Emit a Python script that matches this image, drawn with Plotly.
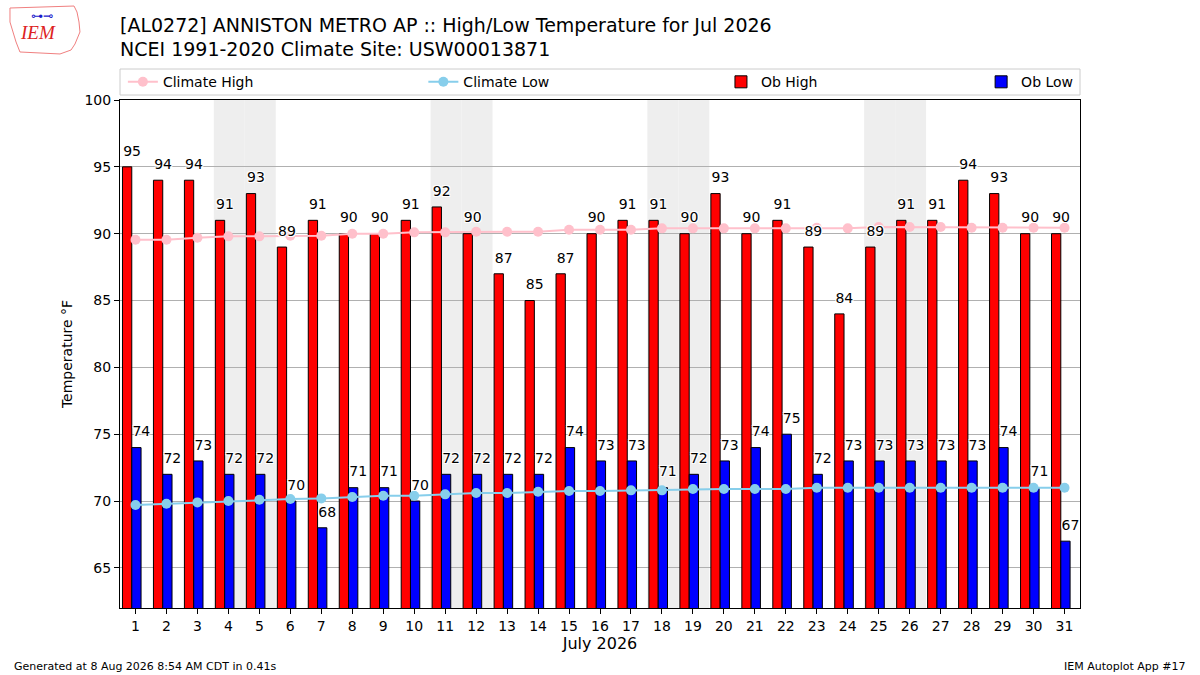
import datetime
import plotly.graph_objects as go

# July 2026 daily obs for AL0272 plus the NCEI 1991-2020 daily normals
days = list(range(1, 32))
ob_high = [95, 94, 94, 91, 93, 89, 91, 90, 90, 91, 92, 90, 87, 85, 87, 90,
           91, 91, 90, 93, 90, 91, 89, 84, 89, 91, 91, 94, 93, 90, 90]
ob_low = [74, 72, 73, 72, 72, 70, 68, 71, 71, 70, 72, 72, 72, 72, 74, 73,
          73, 71, 72, 73, 74, 75, 72, 73, 73, 73, 73, 73, 74, 71, 67]
climate_high = [89.55, 89.55, 89.7, 89.8, 89.8, 89.85, 89.85, 90.0, 90.0, 90.1,
                90.1, 90.15, 90.15, 90.15, 90.3, 90.3, 90.3, 90.4, 90.4, 90.4,
                90.4, 90.4, 90.45, 90.4, 90.5, 90.5, 90.5, 90.45, 90.45, 90.45, 90.45]
climate_low = [69.7, 69.8, 69.9, 70.0, 70.1, 70.15, 70.2, 70.3, 70.4, 70.4,
               70.5, 70.6, 70.6, 70.7, 70.75, 70.75, 70.8, 70.8, 70.9, 70.9,
               70.9, 70.9, 71.0, 71.0, 71.0, 71.0, 71.0, 71.0, 71.0, 71.0, 71.0]
y_ticks = [65, 70, 75, 80, 85, 90, 95, 100]

title_lines = ["[AL0272] ANNISTON METRO AP :: High/Low Temperature for Jul 2026",
               "NCEI 1991-2020 Climate Site: USW00013871"]
footer_left = "Generated at 8 Aug 2026 8:54 AM CDT in 0.41s"
footer_right = "IEM Autoplot App #17"

FONT = "DejaVu Sans"
halo = "1px 1px 0 white, -1px -1px 0 white, 1px -1px 0 white, -1px 1px 0 white"

fig = go.Figure()

# weekend shading
for d in days:
    if datetime.date(2026, 7, d).weekday() >= 5:
        fig.add_vrect(x0=d - 0.47, x1=d + 0.53, fillcolor="#eeeeee",
                      line_width=0, layer="below")

fig.add_trace(go.Bar(x=days, y=ob_high, width=0.3, offset=-0.42,
                     marker=dict(color="red", line=dict(color="black", width=1)),
                     name="Ob High", legend="legend3"))
fig.add_trace(go.Bar(x=days, y=ob_low, width=0.3, offset=-0.12,
                     marker=dict(color="blue", line=dict(color="black", width=1)),
                     name="Ob Low", legend="legend4"))

fig.add_trace(go.Scatter(x=days, y=climate_high, mode="lines+markers",
                         line=dict(color="pink", width=2),
                         marker=dict(color="pink", size=10),
                         name="Climate High", legend="legend"))
fig.add_trace(go.Scatter(x=days, y=climate_low, mode="lines+markers",
                         line=dict(color="skyblue", width=2),
                         marker=dict(color="skyblue", size=10),
                         name="Climate Low", legend="legend2"))

# value labels
fig.add_trace(go.Scatter(x=[d - 0.11 for d in days], y=[v + 1.1 for v in ob_high],
                         mode="text", text=[str(v) for v in ob_high],
                         textposition="middle center",
                         textfont=dict(family=FONT, size=14, color="black", shadow=halo),
                         showlegend=False, hoverinfo="skip"))
fig.add_trace(go.Scatter(x=[d + 0.19 for d in days], y=[v + 1.1 for v in ob_low],
                         mode="text", text=[str(v) for v in ob_low],
                         textposition="middle center",
                         textfont=dict(family=FONT, size=14, color="black", shadow=halo),
                         showlegend=False, hoverinfo="skip"))

leg = dict(orientation="h", yanchor="middle", y=1.035, xanchor="left",
           bgcolor="rgba(0,0,0,0)", font=dict(family=FONT, size=14, color="black"))

# legend frame
fig.add_shape(type="rect", xref="paper", yref="paper", x0=0, x1=1,
              y0=1.0098, y1=1.061, line=dict(color="#cccccc", width=1),
              fillcolor="white", layer="below")

# rough IEM logo: state outline plus text
fig.add_shape(type="path", xref="paper", yref="paper",
              path="M -0.1146,1.1811 L -0.0479,1.1850 L -0.0448,1.1732 L -0.0427,1.1535 "
                   "L -0.0417,1.1339 L -0.0469,1.1102 L -0.0510,1.0984 L -0.0625,1.0906 "
                   "L -0.1042,1.0945 L -0.1083,1.1142 L -0.1146,1.1535 Z",
              line=dict(color="#f08080", width=1))
fig.add_annotation(xref="paper", yref="paper", x=-0.085, y=1.132, text="<i>IEM</i>",
                   xanchor="center", yanchor="middle", showarrow=False,
                   font=dict(family="Liberation Serif", size=19, color="#dd2222"))
fig.add_annotation(xref="paper", yref="paper", x=-0.081, y=1.165, text="⊶⊸",
                   xanchor="center", yanchor="middle", showarrow=False,
                   font=dict(family=FONT, size=12, color="#1a1acc"))

fig.add_annotation(xref="paper", yref="paper", x=-0.1125, y=-0.116, text=footer_left,
                   xanchor="left", yanchor="middle", showarrow=False,
                   font=dict(family=FONT, size=11, color="black"))
fig.add_annotation(xref="paper", yref="paper", x=1.1125, y=-0.116, text=footer_right,
                   xanchor="right", yanchor="middle", showarrow=False,
                   font=dict(family=FONT, size=11, color="black"))

fig.update_layout(
    width=1200, height=675,
    margin=dict(l=120, r=120, t=100, b=67),
    paper_bgcolor="white", plot_bgcolor="white",
    barmode="overlay",
    font=dict(family=FONT, size=14, color="black"),
    title=dict(text="<br>".join(title_lines), x=0.1, xanchor="left", xref="container",
               y=0.953, yanchor="middle", font=dict(family=FONT, size=19, color="black")),
    legend=dict(leg, x=0.003),
    legend2=dict(leg, x=0.316),
    legend3=dict(leg, x=0.626),
    legend4=dict(leg, x=0.897),
    xaxis=dict(range=[0.5, 31.5], tickmode="array", tickvals=days,
               ticks="outside", ticklen=5, tickcolor="black",
               showline=True, linecolor="black", mirror=True, showgrid=False,
               zeroline=False, tickfont=dict(size=14),
               title=dict(text="July 2026", font=dict(size=16), standoff=5)),
    yaxis=dict(range=[62, 100], tickmode="array", tickvals=y_ticks,
               ticks="outside", ticklen=5, tickcolor="black",
               showline=True, linecolor="black", mirror=True,
               showgrid=True, gridcolor="#b0b0b0", gridwidth=1,
               zeroline=False, tickfont=dict(size=14),
               title=dict(text="Temperature °F", font=dict(size=14), standoff=8)),
)

fig.write_html("out.html", config={"displayModeBar": False},
               post_script="document.body.style.margin='0';")
